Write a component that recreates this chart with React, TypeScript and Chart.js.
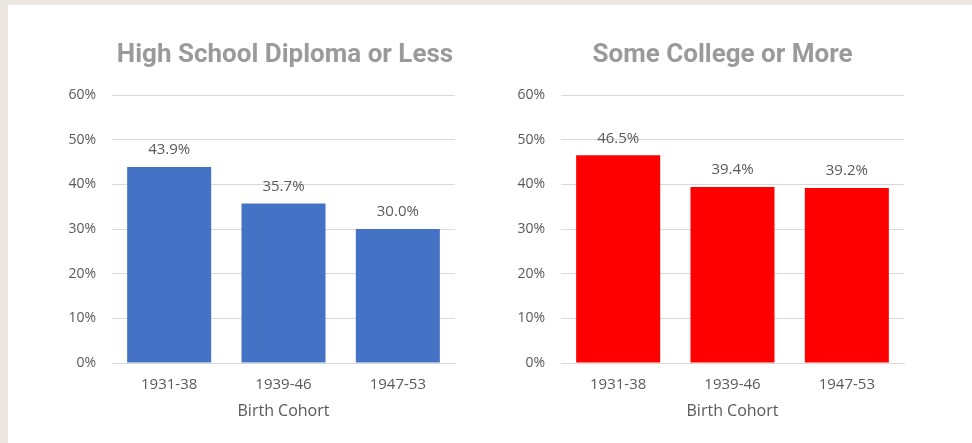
import React, { useEffect, useRef } from "react";
import { Chart, registerables } from "chart.js";
Chart.register(...registerables);

const categories = ["1931-38", "1939-46", "1947-53"];
const hsValues = [43.9, 35.7, 30.0];
const collegeValues = [46.5, 39.4, 39.2];
const yMin = 0;
const yMax = 60;
const yStep = 10;
const titleLeft = "High School Diploma or Less";
const titleRight = "Some College or More";
const axisTitle = "Birth Cohort";

const TEXT = "#595959";
const GRID = "#d9d9d9";

function makeChart(canvas: HTMLCanvasElement, values: number[], color: string, title: string, titleX: number) {
  const overlay = {
    id: "overlay",
    afterDatasetsDraw(chart: any) {
      const ctx = chart.ctx;
      const meta = chart.getDatasetMeta(0);
      ctx.save();
      ctx.font = "15px 'Open Sans'";
      ctx.fillStyle = TEXT;
      ctx.textAlign = "center";
      ctx.textBaseline = "middle";
      meta.data.forEach((bar: any, i: number) => {
        ctx.fillText(values[i].toFixed(1) + "%", bar.x, bar.y - 17);
      });
      ctx.font = "bold 26px Roboto";
      ctx.fillStyle = "#9a9a9a";
      ctx.textBaseline = "alphabetic";
      ctx.fillText(title, titleX, 57);
      ctx.restore();
    },
  };
  return new Chart(canvas, {
    type: "bar",
    data: {
      labels: categories,
      datasets: [
        {
          data: values,
          backgroundColor: color,
          borderWidth: 0,
          categoryPercentage: 1,
          barPercentage: 0.735,
        },
      ],
    },
    options: {
      responsive: false,
      animation: false,
      devicePixelRatio: 1,
      layout: { padding: { top: 90, right: 23, left: 0, bottom: 0 } },
      plugins: { legend: { display: false }, tooltip: { enabled: false }, title: { display: false } },
      scales: {
        y: {
          min: yMin,
          max: yMax,
          ticks: {
            stepSize: yStep,
            padding: 16,
            color: TEXT,
            font: { family: "'Open Sans'", size: 14 },
            callback: (v: any) => v + "%",
          },
          grid: { color: GRID, lineWidth: 1, drawTicks: false },
          border: { display: false },
          afterFit: (s: any) => {
            s.width = 104;
          },
        },
        x: {
          ticks: { padding: 13, color: TEXT, font: { family: "'Open Sans'", size: 15 } },
          grid: { display: false, drawTicks: false },
          border: { display: true, color: GRID, width: 1 },
          title: {
            display: true,
            text: axisTitle,
            color: TEXT,
            font: { family: "'Open Sans'", size: 16 },
            padding: { top: 22, bottom: 22 },
          },
          afterFit: (s: any) => {
            s.height = 80;
          },
        },
      },
    },
    plugins: [overlay],
  });
}

export default function App() {
  const leftRef = useRef<HTMLCanvasElement>(null);
  const rightRef = useRef<HTMLCanvasElement>(null);
  useEffect(() => {
    const a = makeChart(leftRef.current!, hsValues, "#4472c4", titleLeft, 277);
    const b = makeChart(rightRef.current!, collegeValues, "#ff0000", titleRight, 265.5);
    return () => {
      a.destroy();
      b.destroy();
    };
  }, []);
  return (
    <div style={{ position: "fixed", left: 0, top: 0, width: 972, height: 443, background: "#ebe7e0", overflow: "hidden" }}>
      <div style={{ position: "absolute", left: 8, top: 5, width: 964, height: 438, background: "#ffffff" }} />
      <canvas ref={leftRef} width={470} height={438} style={{ position: "absolute", left: 8, top: 5, width: 470, height: 438 }} />
      <canvas ref={rightRef} width={470} height={438} style={{ position: "absolute", left: 457, top: 5, width: 470, height: 438 }} />
    </div>
  );
}
